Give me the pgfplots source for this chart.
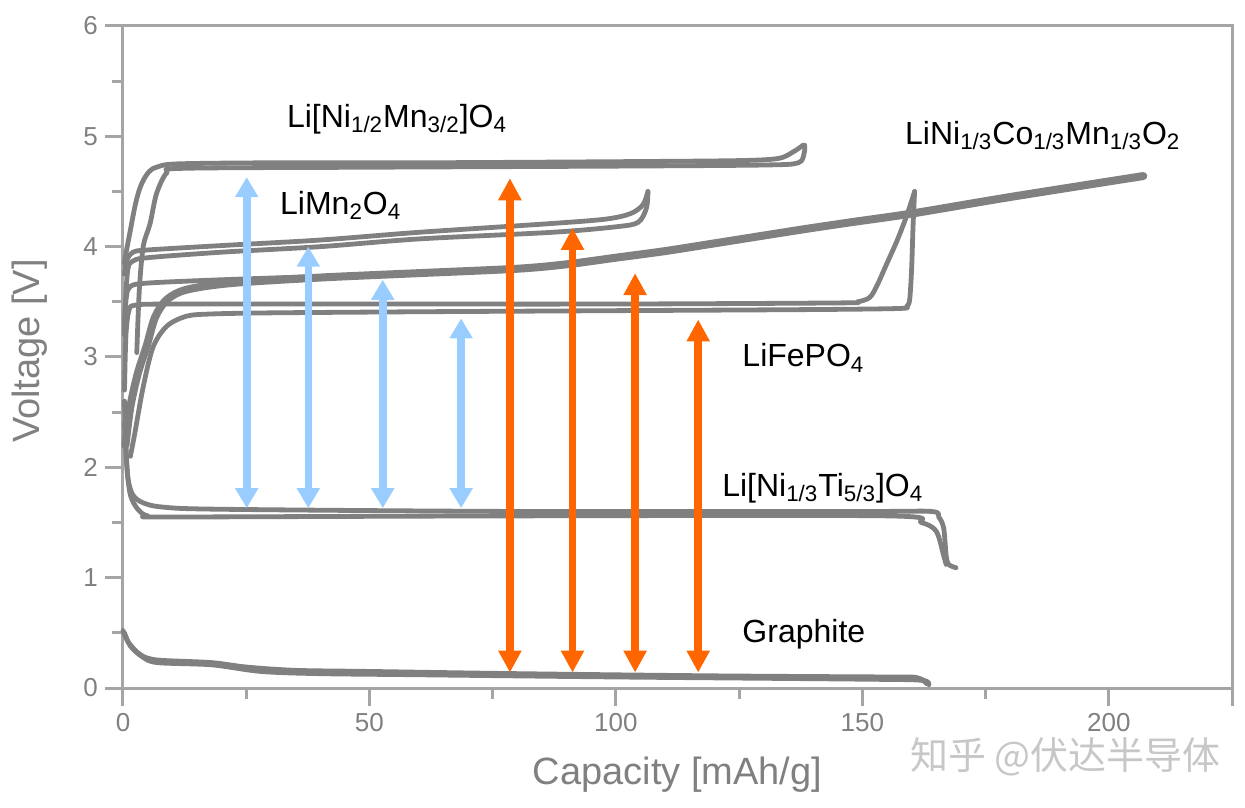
\documentclass[border=0pt]{standalone}
\usepackage{fontspec}
\setmainfont{Liberation Sans}
\newfontfamily\cjk{Noto Sans CJK SC}
\usepackage{pgfplots}
\pgfplotsset{compat=1.18}
\usetikzlibrary{arrows.meta}
\definecolor{curve}{RGB}{128,128,128}
\definecolor{axgray}{RGB}{165,165,165}
\definecolor{lblue}{RGB}{153,204,255}
\definecolor{orng}{RGB}{255,102,0}
\definecolor{txtgray}{RGB}{128,128,128}
\tikzset{lab/.style={font=\fontsize{16}{19}\selectfont, text=black, inner sep=0pt, anchor=base west}}
\begin{document}
\begin{tikzpicture}
\begin{axis}[
 scale only axis, width=554.5pt, height=331pt,
 xmin=0, xmax=225, ymin=0, ymax=6,
 xtick={0,50,...,200}, ytick={0,1,...,6},
 minor x tick num=1, minor y tick num=1,
 xtick pos=bottom, ytick pos=left,
 tick align=outside,
 major tick length=9pt, minor tick length=5.5pt,
 every tick/.style={axgray, line width=1.5pt},
 axis line style={axgray, line width=1.5pt},
 tick label style={font=\fontsize{13}{15}\selectfont, text=txtgray},
 /pgf/number format/assume math mode=true,
 xlabel={Capacity [mAh/g]}, ylabel={Voltage [V]},
 label style={font=\fontsize{19}{22}\selectfont, text=txtgray},
 xlabel style={at={(axis description cs:0.5,-0.1465)}, anchor=base},
 ylabel style={at={(axis description cs:-0.0757,0.509)}, anchor=base, rotate=0},
 extra x ticks={225}, extra x tick labels={},
 extra x tick style={major tick length=9pt},
 clip=false,
 every axis plot/.append style={line join=round, line cap=round},
]
\coordinate (SW) at (rel axis cs:0,0);
\coordinate (NE) at (rel axis cs:1,1);
% LNMO
\addplot[curve, line width=2.4pt, smooth] coordinates {(0.3,3.85) (0.6,3.94) (1.5,4.15) (2.4,4.36) (3.2,4.5) (4.1,4.6) (5.3,4.68) (6.8,4.72) (10.9,4.75) (30,4.76) (60,4.76) (100,4.77) (125,4.78) (133,4.8) (136,4.86) (138,4.92)};
\addplot[curve, line width=2.4pt, smooth] coordinates {(2.8,3.04) (3.3,3.6) (4.1,4.0) (5.5,4.21) (6.8,4.48) (8.9,4.67) (12.2,4.71) (50,4.72) (100,4.73) (130,4.74) (137,4.76) (138.2,4.85) (138.3,4.92)};
% LMO
\addplot[curve, line width=2.4pt, smooth] coordinates {(0.3,3.75) (0.8,3.88) (2,3.95) (5,3.97) (20,4.01) (40,4.06) (60,4.13) (87,4.21) (98,4.25) (103,4.3) (105.5,4.38) (106.5,4.5)};
\addplot[curve, line width=2.4pt, smooth] coordinates {(106.5,4.5) (106.2,4.35) (104.5,4.22) (100,4.18) (87,4.13) (60,4.07) (40,4.0) (20,3.95) (5,3.9) (2,3.87) (1,3.8) (0.5,3.5) (0.3,3.2)};
% NMC
\addplot[curve, line width=4pt, smooth] coordinates {(0.5,2.2) (1.5,2.55) (3,2.85) (4.8,3.1) (6.5,3.36) (8.9,3.52) (12.9,3.61) (22,3.67) (40,3.72) (60,3.76) (80,3.8) (90,3.84) (100,3.9) (110,3.96) (120,4.03) (137,4.15) (147.5,4.22) (160,4.3) (180,4.45) (207,4.64)};
\addplot[curve, line width=2.4pt, smooth] coordinates {(0.3,3.3) (0.7,3.55) (1.5,3.64) (5,3.67) (20,3.7) (40,3.73)};
% LFP
\addplot[curve, line width=2.4pt, smooth] coordinates {(0.3,2.7) (0.6,3.2) (1.2,3.42) (2.5,3.47) (10,3.48) (50,3.48) (100,3.48) (145,3.49) (149,3.5) (151.5,3.54) (153,3.65) (155,3.85) (157,4.05) (159,4.28) (160.6,4.5)};
\addplot[curve, line width=2.4pt, smooth] coordinates {(160.6,4.5) (160.3,4.2) (160,3.8) (159.6,3.52) (159,3.46) (157.6,3.44) (140,3.43) (100,3.42) (60,3.41) (30,3.4) (18,3.39) (12.9,3.37) (8.9,3.28) (6.1,3.09) (4.1,2.73) (2.4,2.31) (1.5,2.1)};
% LTO
\addplot[curve, line width=2.4pt, smooth] coordinates {(0.3,2.6) (0.6,2.2) (1,1.9) (2,1.75) (4,1.68) (8,1.64) (20,1.62) (80,1.6) (150,1.6) (164,1.6) (165.5,1.55) (166.5,1.45) (167,1.2) (167.5,1.12) (169,1.09)};
\addplot[curve, line width=2.4pt, smooth] coordinates {(0.3,2.4) (0.8,2.0) (1.5,1.75) (3,1.62) (5,1.56) (10,1.55) (80,1.56) (155,1.56) (162,1.5) (165,1.42) (166.5,1.2) (167,1.12)};
% Graphite
\addplot[curve, line width=2.4pt, smooth] coordinates {(0,0.52) (1,0.42) (3,0.32) (5,0.27) (8,0.25) (18,0.23) (25,0.19) (35,0.16) (50,0.15) (80,0.13) (120,0.11) (155,0.1) (160,0.1) (162,0.08) (163,0.04)};
\addplot[curve, line width=2.4pt, smooth] coordinates {(0.3,0.5) (1.5,0.38) (4,0.28) (7,0.23) (18,0.21) (28,0.15) (40,0.13) (60,0.12) (100,0.1) (150,0.08) (162,0.07) (163.5,0.03)};
% arrows
\addplot[lblue, line width=3.8pt, {Triangle[width=11pt,length=10pt]}-{Triangle[width=11pt,length=10pt]}] coordinates {(25.1,1.63) (25.1,4.63)};
\addplot[lblue, line width=3.8pt, {Triangle[width=11pt,length=10pt]}-{Triangle[width=11pt,length=10pt]}] coordinates {(37.6,1.63) (37.6,4.0)};
\addplot[lblue, line width=3.8pt, {Triangle[width=11pt,length=10pt]}-{Triangle[width=11pt,length=10pt]}] coordinates {(52.7,1.63) (52.7,3.7)};
\addplot[lblue, line width=3.8pt, {Triangle[width=11pt,length=10pt]}-{Triangle[width=11pt,length=10pt]}] coordinates {(68.6,1.63) (68.6,3.35)};
\addplot[orng, line width=3.8pt, {Triangle[width=11pt,length=11pt]}-{Triangle[width=11pt,length=11pt]}] coordinates {(78.5,0.14) (78.5,4.62)};
\addplot[orng, line width=3.8pt, {Triangle[width=11pt,length=11pt]}-{Triangle[width=11pt,length=11pt]}] coordinates {(91.2,0.14) (91.2,4.17)};
\addplot[orng, line width=3.8pt, {Triangle[width=11pt,length=11pt]}-{Triangle[width=11pt,length=11pt]}] coordinates {(103.9,0.14) (103.9,3.76)};
\addplot[orng, line width=3.8pt, {Triangle[width=11pt,length=11pt]}-{Triangle[width=11pt,length=11pt]}] coordinates {(116.7,0.14) (116.7,3.34)};
% labels
\node[lab] at (axis cs:33.2,5.08) {Li[Ni\textsubscript{1/2}Mn\textsubscript{3/2}]O\textsubscript{4}};
\node[lab] at (axis cs:31.8,4.29) {LiMn\textsubscript{2}O\textsubscript{4}};
\node[lab] at (axis cs:158.6,4.93) {LiNi\textsubscript{1/3}Co\textsubscript{1/3}Mn\textsubscript{1/3}O\textsubscript{2}};
\node[lab] at (axis cs:125.6,2.91) {LiFePO\textsubscript{4}};
\node[lab] at (axis cs:121.5,1.74) {Li[Ni\textsubscript{1/3}Ti\textsubscript{5/3}]O\textsubscript{4}};
\node[lab] at (axis cs:125.6,0.41) {Graphite};
\node[anchor=base west, inner sep=0pt, font=\cjk\fontsize{19}{22}\selectfont, text=black!22] at (axis cs:159.6,-0.74) {知乎 @伏达半导体};
\end{axis}
\pgfresetboundingbox
\path ([shift={(-61.5pt,-59.5pt)}]SW) rectangle ([shift={(6.5pt,13pt)}]NE);
\end{tikzpicture}
\end{document}
